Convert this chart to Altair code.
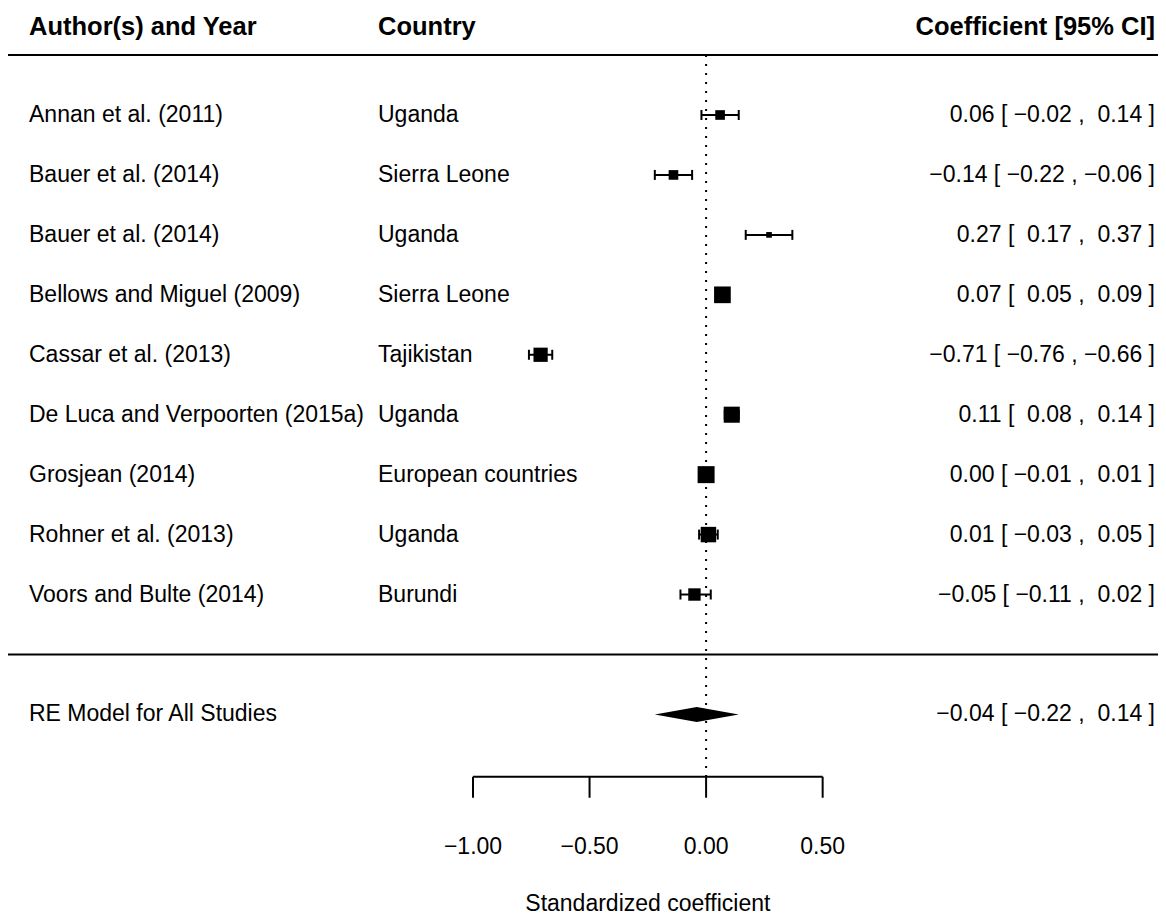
import altair as alt
import pandas as pd

# ---------------- data ----------------
authors = ["Annan et al. (2011)", "Bauer et al. (2014)", "Bauer et al. (2014)",
           "Bellows and Miguel (2009)", "Cassar et al. (2013)",
           "De Luca and Verpoorten (2015a)", "Grosjean (2014)",
           "Rohner et al. (2013)", "Voors and Bulte (2014)"]
countries = ["Uganda", "Sierra Leone", "Uganda", "Sierra Leone", "Tajikistan",
             "Uganda", "European countries", "Uganda", "Burundi"]
estimates = [0.06, -0.14, 0.27, 0.07, -0.71, 0.11, 0.00, 0.01, -0.05]
ci_lower = [-0.02, -0.22, 0.17, 0.05, -0.76, 0.08, -0.01, -0.03, -0.11]
ci_upper = [0.14, -0.06, 0.37, 0.09, -0.66, 0.14, 0.01, 0.05, 0.02]
weights = [11.00, 11.00, 10.87, 11.23, 11.15, 11.21, 11.24, 11.19, 11.09]

re_label = "RE Model for All Studies"
re_estimate = -0.04
re_lower = -0.22
re_upper = 0.14

axis_ticks = [-1.0, -0.5, 0.0, 0.5]
axis_title = "Standardized coefficient"
headers = ["Author(s) and Year", "Country", "Coefficient [95% CI]"]

# ---------------- layout / style ----------------
W, H = 1150, 910
X_PER_UNIT = 233.1
X_ZERO = 698.1
ROW_PX = 59.94
ROW9_Y = 107
FONT = "Liberation Sans"
FS = 23
FS_BOLD = 25.5
SQ = 11.33           # square side (px) for relative size 1
DIAMOND_H = 0.125    # half height of the summary diamond in rows
AXIS_ROW = -2.04
TICKLAB_ROW = -3.21
TITLE_ROW = -4.17
HEADER_ROW = 10.47
COL_AUTHOR, COL_COUNTRY, COL_RIGHT = 21, 370, 1147

xs = alt.Scale(domain=[-X_ZERO / X_PER_UNIT, (W - X_ZERO) / X_PER_UNIT], nice=False, zero=False)
y_top = 9 + ROW9_Y / ROW_PX
ys = alt.Scale(domain=[y_top - H / ROW_PX, y_top], nice=False, zero=False)

MINUS = "\u2212"
NBSP = "\u00a0"


def fmt(v):
    s = f"{abs(v):.2f}"
    return MINUS + s if v < 0 else s


def pad(v):
    return fmt(v) if v < 0 else NBSP + fmt(v)


def annot(e, lo, hi):
    return f"{fmt(e)} [ {pad(lo)} , {pad(hi)} ]"


k = len(authors)
wmin, wmax = min(weights), max(weights)
studies = pd.DataFrame({
    "author": authors,
    "country": countries,
    "est": estimates,
    "lo": ci_lower,
    "hi": ci_upper,
    "row": [k - i for i in range(k)],
    "annot": [annot(e, l, h) for e, l, h in zip(estimates, ci_lower, ci_upper)],
})
studies["area"] = [((0.5 + (w - wmin) / (wmax - wmin)) * SQ) ** 2 for w in weights]

X = lambda f: alt.X(f, scale=xs, axis=None, title=None)
Y = lambda f: alt.Y(f, scale=ys, axis=None, title=None)

base = alt.Chart(studies)

# separator lines
lines = alt.Chart(pd.DataFrame({"r": [10, 0]})).mark_rule(color="black", strokeWidth=2).encode(
    y=Y("r:Q"), x=alt.value(0), x2=alt.value(W))

# headers
hdr = pd.DataFrame({"t": headers, "px": [COL_AUTHOR, COL_COUNTRY, COL_RIGHT],
                    "al": ["left", "left", "right"], "r": [HEADER_ROW] * 3})
hdr_left = alt.Chart(hdr[hdr.al == "left"]).mark_text(
    align="left", baseline="middle", font=FONT, fontSize=FS_BOLD, fontWeight="bold", color="black"
).encode(x=alt.X("px:Q", scale=None), y=Y("r:Q"), text="t:N")
hdr_right = alt.Chart(hdr[hdr.al == "right"]).mark_text(
    align="right", baseline="middle", font=FONT, fontSize=FS_BOLD, fontWeight="bold", color="black"
).encode(x=alt.X("px:Q", scale=None), y=Y("r:Q"), text="t:N")

# reference line
ref = alt.Chart(pd.DataFrame({"x": [0.0], "r1": [10.0], "r2": [AXIS_ROW]})).mark_rule(
    color="black", strokeWidth=2, strokeDash=[2, 7]
).encode(x=X("x:Q"), y=Y("r1:Q"), y2="r2:Q")

txt_author = base.mark_text(align="left", baseline="middle", font=FONT, fontSize=FS, color="black").encode(
    x=alt.value(COL_AUTHOR), y=Y("row:Q"), text="author:N")
txt_country = base.mark_text(align="left", baseline="middle", font=FONT, fontSize=FS, color="black").encode(
    x=alt.value(COL_COUNTRY), y=Y("row:Q"), text="country:N")
txt_annot = base.mark_text(align="right", baseline="middle", font=FONT, fontSize=FS, color="black").encode(
    x=alt.value(COL_RIGHT), y=Y("row:Q"), text="annot:N")

ci = base.mark_rule(color="black", strokeWidth=2).encode(x=X("lo:Q"), x2="hi:Q", y=Y("row:Q"))
whisk = base.transform_fold(["lo", "hi"], as_=["end", "xv"]).mark_rule(
    color="black", strokeWidth=2, yOffset=-5, y2Offset=5
).encode(x=X("xv:Q"), y=Y("row:Q"), y2="row:Q")
squares = base.mark_square(color="black", opacity=1, filled=True, strokeWidth=0).encode(
    x=X("est:Q"), y=Y("row:Q"), size=alt.Size("area:Q", scale=None, legend=None))

# summary diamond
dia = pd.DataFrame({"x": [re_lower, re_estimate, re_upper],
                    "y1": [-1, -1 + DIAMOND_H, -1], "y2": [-1, -1 - DIAMOND_H, -1]})
diamond = alt.Chart(dia).mark_area(color="black", orient="vertical", opacity=1).encode(
    x=X("x:Q"), y=Y("y1:Q"), y2="y2:Q")
re_df = pd.DataFrame({"label": [re_label], "annot": [annot(re_estimate, re_lower, re_upper)], "r": [-1]})
re_l = alt.Chart(re_df).mark_text(align="left", baseline="middle", font=FONT, fontSize=FS, color="black").encode(
    x=alt.value(COL_AUTHOR), y=Y("r:Q"), text="label:N")
re_r = alt.Chart(re_df).mark_text(align="right", baseline="middle", font=FONT, fontSize=FS, color="black").encode(
    x=alt.value(COL_RIGHT), y=Y("r:Q"), text="annot:N")

# x axis drawn by hand
tk = pd.DataFrame({"t": axis_ticks, "lab": [fmt(t) for t in axis_ticks],
                   "r": [AXIS_ROW] * len(axis_ticks), "lr": [TICKLAB_ROW] * len(axis_ticks)})
ax_line = alt.Chart(pd.DataFrame({"a": [min(axis_ticks)], "b": [max(axis_ticks)], "r": [AXIS_ROW]})).mark_rule(
    color="black", strokeWidth=2).encode(x=X("a:Q"), x2="b:Q", y=Y("r:Q"))
ax_ticks = alt.Chart(tk).mark_rule(color="black", strokeWidth=2, y2Offset=21).encode(
    x=X("t:Q"), y=Y("r:Q"), y2="r:Q")
ax_labels = alt.Chart(tk).mark_text(align="center", baseline="middle", font=FONT, fontSize=FS, color="black").encode(
    x=X("t:Q"), y=Y("lr:Q"), text="lab:N")
ax_title = alt.Chart(pd.DataFrame({"x": [(min(axis_ticks) + max(axis_ticks)) / 2], "r": [TITLE_ROW],
                                   "t": [axis_title]})).mark_text(
    align="center", baseline="middle", font=FONT, fontSize=FS, color="black").encode(
    x=X("x:Q"), y=Y("r:Q"), text="t:N")

chart = alt.layer(
    lines, ref, hdr_left, hdr_right, txt_author, txt_country, txt_annot,
    ci, whisk, squares, diamond, re_l, re_r, ax_line, ax_ticks, ax_labels, ax_title
).properties(
    width=W, height=H, padding=0, background="white",
    autosize=alt.AutoSizeParams(type="none")
).configure_view(stroke=None, strokeWidth=0)

chart.save("out.html", embed_options={"renderer": "svg", "actions": False})
